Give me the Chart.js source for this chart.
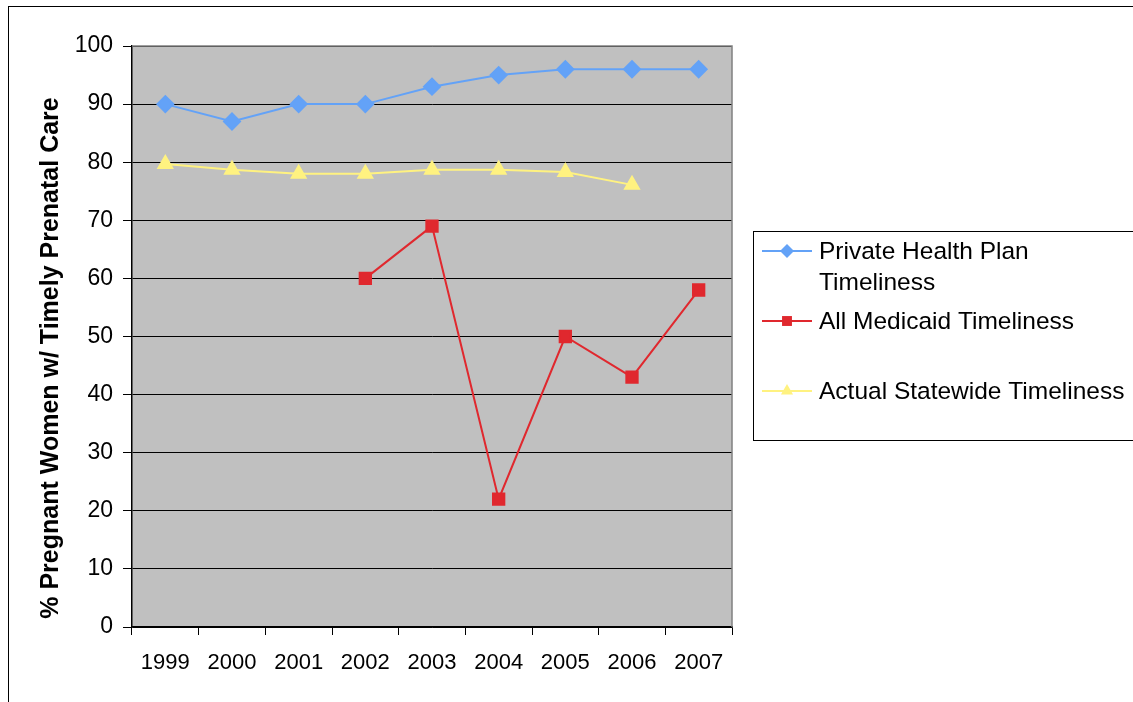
<!DOCTYPE html>
<html>
<head>
<meta charset="utf-8">
<script src="https://cdn.jsdelivr.net/npm/chart.js@4/dist/chart.umd.min.js"></script>
<style>
  html, body { margin: 0; padding: 0; background: #fff; }
  #wrap { width: 1133px; height: 702px; position: relative; }
</style>
</head>
<body>
<div id="wrap"><canvas id="timelyChart" width="1133" height="702"></canvas></div>
<script>
// Years on the x axis
const years = ['1999', '2000', '2001', '2002', '2003', '2004', '2005', '2006', '2007'];

// Percent of pregnant women with timely prenatal care
const privatePlan = [90, 87, 90, 90, 93, 95, 96, 96, 96];
const allMedicaid = [null, null, null, 60, 69, 22, 50, 43, 58];
const statewide = [79.7, 78.7, 78, 78, 78.7, 78.7, 78.3, 76.1, null];

// Legend labels (first one wraps onto two lines)
const legendLabels = [['Private Health Plan', 'Timeliness'], ['All Medicaid Timeliness'], ['Actual Statewide Timeliness']];
const yTitle = '% Pregnant Women w/ Timely Prenatal Care';

const FONT = '"Liberation Sans", Arial, sans-serif';

// Grey plot background, outer frame, y title and the boxed legend on the right
const excelLook = {
    id: 'excelLook',
    beforeDraw(chart) {
        const { ctx, chartArea: a } = chart;
        ctx.save();
        ctx.fillStyle = '#C0C0C0';
        ctx.fillRect(a.left, a.top, a.right - a.left, a.bottom - a.top);
        ctx.strokeStyle = '#000';
        ctx.lineWidth = 1;
        ctx.strokeRect(8.5, 6.5, 1300, 900);

        // rotated y axis title
        ctx.translate(51, 358);
        ctx.rotate(-Math.PI / 2);
        ctx.font = 'bold 25px ' + FONT;
        ctx.fillStyle = '#000';
        ctx.textAlign = 'center';
        ctx.textBaseline = 'middle';
        ctx.fillText(yTitle, 0, 0);
        ctx.restore();
    },
    afterDatasetsDraw(chart) {
        const { ctx, chartArea: a } = chart;
        ctx.save();
        // right and top edges of the plot area
        ctx.strokeStyle = '#808080';
        ctx.lineWidth = 1.5;
        ctx.beginPath();
        ctx.moveTo(a.left, a.top);
        ctx.lineTo(a.right, a.top);
        ctx.lineTo(a.right, a.bottom);
        ctx.stroke();

        // legend box
        ctx.fillStyle = '#fff';
        ctx.fillRect(753, 231, 380, 209);
        ctx.strokeStyle = '#000';
        ctx.lineWidth = 1;
        ctx.strokeRect(753.5, 231.5, 380, 209);

        const rows = [251, 321, 391];
        ctx.font = '24.5px ' + FONT;
        ctx.textBaseline = 'middle';
        chart.data.datasets.forEach((ds, i) => {
            const y = rows[i];
            ctx.strokeStyle = ds.borderColor;
            ctx.lineWidth = 2;
            ctx.beginPath();
            ctx.moveTo(762, y);
            ctx.lineTo(812, y);
            ctx.stroke();
            ctx.fillStyle = ds.pointBackgroundColor;
            ctx.strokeStyle = ds.pointBackgroundColor;
            Chart.helpers.drawPoint(ctx, {
                pointStyle: ds.pointStyle,
                radius: ds.pointRadius - 1,
                borderWidth: 0
            }, 787, y);
            ctx.fillStyle = '#000';
            legendLabels[i].forEach((line, k) => {
                ctx.fillText(line, 819, y + 1 + k * 31);
            });
        });
        ctx.restore();
    }
};

const ctx = document.getElementById('timelyChart').getContext('2d');
const timelyChart = new Chart(ctx, {
    type: 'line',
    data: {
        labels: years,
        datasets: [{
            label: 'Private Health Plan Timeliness',
            data: privatePlan,
            borderColor: '#63A2F7',
            pointBackgroundColor: '#63A2F7',
            pointBorderColor: '#63A2F7',
            pointStyle: 'rectRot',
            pointRadius: 8,
            borderWidth: 2
        }, {
            label: 'All Medicaid Timeliness',
            data: allMedicaid,
            borderColor: '#E0282E',
            pointBackgroundColor: '#E0282E',
            pointBorderColor: '#E0282E',
            pointStyle: 'rect',
            pointRadius: 8,
            borderWidth: 2
        }, {
            label: 'Actual Statewide Timeliness',
            data: statewide,
            borderColor: '#FFF280',
            pointBackgroundColor: '#FFF280',
            pointBorderColor: '#FFF280',
            pointStyle: 'triangle',
            pointRadius: 8,
            borderWidth: 2
        }]
    },
    options: {
        responsive: false,
        animation: false,
        layout: { padding: { left: 0, right: 401, top: 46, bottom: 0 } },
        plugins: {
            legend: { display: false },
            tooltip: { enabled: false }
        },
        elements: { line: { tension: 0 } },
        scales: {
            x: {
                offset: true,
                grid: {
                    offset: true,
                    drawOnChartArea: false,
                    drawTicks: true,
                    tickLength: 8,
                    color: '#000'
                },
                border: { color: '#000', width: 1.5 },
                ticks: {
                    color: '#000',
                    font: { family: FONT, size: 22 },
                    padding: 15,
                    maxRotation: 0
                },
                afterFit(scale) { scale.height = 702 - 627; }
            },
            y: {
                min: 0,
                max: 100,
                grid: {
                    color: '#000',
                    lineWidth: 1,
                    tickLength: 9
                },
                border: { color: '#000', width: 1.5 },
                ticks: {
                    stepSize: 10,
                    color: '#000',
                    font: { family: FONT, size: 23 },
                    padding: 10
                },
                afterFit(scale) { scale.width = 132; }
            }
        }
    },
    plugins: [excelLook]
});
</script>
</body>
</html>
